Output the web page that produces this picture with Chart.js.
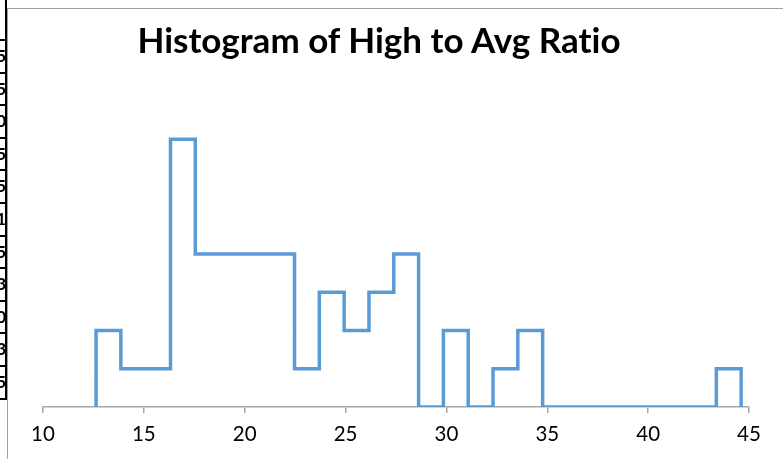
<!DOCTYPE html>
<html>
<head>
<meta charset="utf-8">
<script src="https://cdn.jsdelivr.net/npm/chart.js@4/dist/chart.umd.min.js"></script>
<style>
  html, body { margin: 0; padding: 0; background: #fff; }
  #wrap { position: relative; width: 783px; height: 459px; overflow: hidden; background: #fff; }
  #chart { position: absolute; left: 0; top: 0; }
  .frameTop { position: absolute; left: 7px; top: 8px; width: 776px; height: 0; border-top: 1.5px solid #a0a0a0; }
  .frameLeft { position: absolute; left: 7px; top: 8px; width: 0; height: 451px; border-left: 1.5px solid #a0a0a0; }
  .cellV { position: absolute; left: 5px; top: 0; width: 1.5px; height: 400px; background: #000; }
  .cellH { position: absolute; left: 0; width: 6px; height: 2px; background: #000; }
  .frag { position: absolute; left: 0; width: 5px; height: 20px; overflow: hidden; }
  .frag span { position: absolute; right: -1px; top: 0; font: bold 17px Lato, sans-serif; color: #000; line-height: 20px; }
  #title { position: absolute; left: 0; width: 758px; text-align: center; font: bold 35px Lato, sans-serif; color: #000; line-height: 35px; white-space: nowrap; font-variant-ligatures: none; font-feature-settings: "liga" 0, "clig" 0; }
</style>
</head>
<body>
<div id="wrap">
  <canvas id="chart" width="783" height="459"></canvas>
  <div class="frameTop"></div>
  <div class="frameLeft"></div>
  <div class="cellV"></div>
  <div id="cells"></div>
  <div id="title" style="top:22px">Histogram of High to Avg Ratio</div>
</div>
<script>
// Bin edges of the histogram (x values)
const binEdges = [12.63, 13.86, 15.09, 16.32, 17.55, 18.78, 20.01, 21.24, 22.47, 23.70,
                  24.93, 26.16, 27.39, 28.62, 29.85, 31.08, 32.31, 33.54, 34.77, 36.00,
                  37.23, 38.46, 39.69, 40.92, 42.15, 43.38, 44.61];
// Count in each bin
const binCounts = [2, 1, 1, 7, 4, 4, 4, 4, 1, 3, 2, 3, 4, 0, 2, 0, 1, 2, 0, 0, 0, 0, 0, 0, 0, 1];
// X axis ticks
const xTicks = [10, 15, 20, 25, 30, 35, 40, 45];
// Cropped spreadsheet cell digits on the far left
const leftCellDigits = ["5", "5", "0", "5", "5", "1", "5", "3", "0", "3", "5"];

// left-hand cropped cell fragments
(function () {
  const host = document.getElementById('cells');
  for (let k = 0; k < 12; k++) {
    const y = 40 + 32.6 * k;
    const h = document.createElement('div');
    h.className = 'cellH';
    h.style.top = (y - 1) + 'px';
    host.appendChild(h);
    if (k < leftCellDigits.length) {
      const f = document.createElement('div');
      f.className = 'frag';
      f.style.top = (y + 6) + 'px';
      const s = document.createElement('span');
      s.textContent = leftCellDigits[k];
      f.appendChild(s);
      host.appendChild(f);
    }
  }
})();

// Build the step outline of the histogram
const pts = [{ x: binEdges[0], y: 0 }];
for (let i = 0; i < binCounts.length; i++) {
  pts.push({ x: binEdges[i], y: binCounts[i] });
  pts.push({ x: binEdges[i + 1], y: binCounts[i] });
}
pts.push({ x: binEdges[binEdges.length - 1], y: 0 });

new Chart(document.getElementById('chart'), {
  type: 'line',
  data: {
    datasets: [{
      data: pts,
      borderColor: '#5b9bd5',
      borderWidth: 3.5,
      pointRadius: 0,
      fill: false,
      tension: 0,
      borderJoinStyle: 'miter',
      borderCapStyle: 'butt'
    }]
  },
  options: {
    responsive: false,
    animation: false,
    devicePixelRatio: 1,
    layout: { padding: { left: 43, right: 34, top: 101, bottom: 0 } },
    plugins: { legend: { display: false }, tooltip: { enabled: false }, title: { display: false } },
    scales: {
      x: {
        type: 'linear',
        min: xTicks[0],
        max: xTicks[xTicks.length - 1],
        afterBuildTicks: (s) => { s.ticks = xTicks.map(v => ({ value: v })); },
        afterFit: (s) => { s.height = 52; },
        grid: { drawOnChartArea: false, drawTicks: true, tickLength: 6, color: '#a6a6a6', lineWidth: 1.5 },
        border: { display: true, color: '#a6a6a6', width: 1.5 },
        ticks: { color: '#000', font: { family: 'Lato', size: 20.5 }, padding: 9, maxRotation: 0 }
      },
      y: { display: false, min: 0, max: 8 }
    }
  }
});
</script>
</body>
</html>
